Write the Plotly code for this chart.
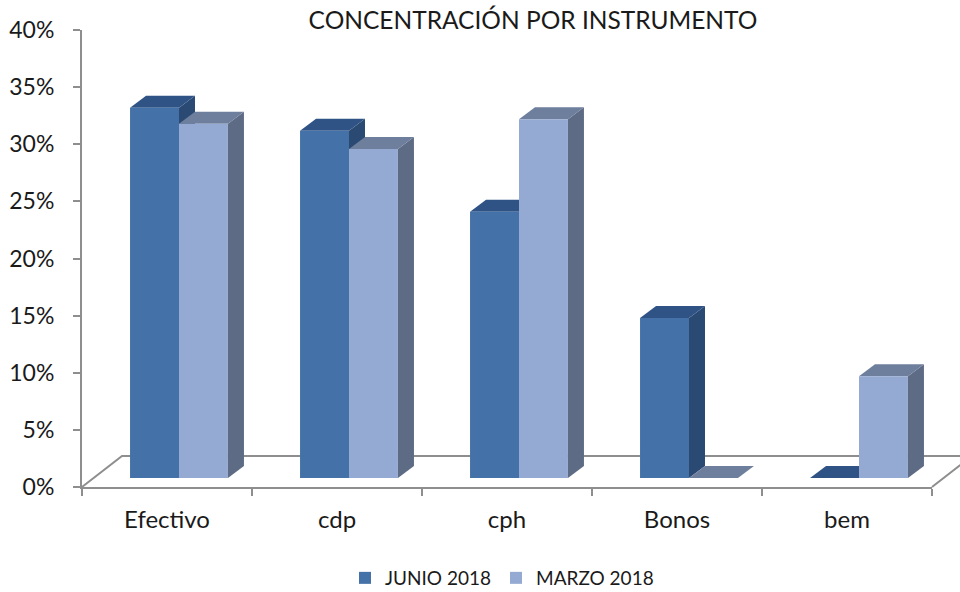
import plotly.graph_objects as go

categories = ["Efectivo", "cdp", "cph", "Bonos", "bem"]
junio_2018 = [32.4, 30.4, 23.3, 14.0, 0.0]
marzo_2018 = [31.0, 28.8, 31.4, 0.0, 8.9]
series_names = ["JUNIO 2018", "MARZO 2018"]
y_ticks = [0, 5, 10, 15, 20, 25, 30, 35, 40]
y_tick_labels = ["0%", "5%", "10%", "15%", "20%", "25%", "30%", "35%", "40%"]
title_text = "CONCENTRACIÓN POR INSTRUMENTO"

# ---- styling / geometry (pixels, in the page) ----
W, H = 960, 592
PL, PR, PT, PB = 82, 932, 30, 487   # plot area in page pixels
ML, MT = PL, PT
MR, MB = W - PR, H - PB
PW, PH = PR - PL, PB - PT
YMAX = 40
n = len(categories)
px_x = PW / n            # px per category unit
px_y = PH / YMAX         # px per percent
shift_x_px, shift_y_px = 12, 9      # bars sit part way into the floor depth
bar_dx_px, bar_dy_px = 16, 12       # depth of the bars
floor_dx_px, floor_dy_px = 40, 31   # depth of the floor
bargap = 0.424
half = (1 - bargap) / 2

sx = shift_x_px / px_x
sy = shift_y_px / px_y
bdx = bar_dx_px / px_x
bdy = bar_dy_px / px_y

FONT = "Lato"
TXT = "#1a1a1a"
front_cols = ["#4471A7", "#95AAD2"]
top_cols = ["#2F5385", "#6E7E9D"]
side_cols = ["#2B4A73", "#5E6B85"]
axis_col = "#8E8E8E"

fig = go.Figure()
# invisible trace so that the front (labelled) axes are drawn
fig.add_trace(go.Scatter(x=categories, y=[None] * n, mode="markers",
                         showlegend=False, hoverinfo="skip"))
series = [junio_2018, marzo_2018]
for k, vals in enumerate(series):
    fig.add_trace(go.Bar(
        x=categories, y=vals, name=series_names[k],
        marker=dict(color=front_cols[k], line=dict(width=0)),
        xaxis="x2", yaxis="y2",
    ))

shapes = []
fdx, fdy = floor_dx_px / PW, floor_dy_px / PH
floor_path = f"M 0,0 L {fdx},{fdy} L {1 + fdx},{fdy} L 1,0"
shapes.append(dict(type="path", xref="paper", yref="paper", path=floor_path,
                   line=dict(color=axis_col, width=2), layer="below"))

# 3D faces of the bars (computed from the data values)
for k, vals in enumerate(series):
    for i, v in enumerate(vals):
        x0 = i - half + k * half
        x1 = x0 + half
        top = (f"M {x0},{v} L {x1},{v} L {x1 + bdx},{v + bdy} "
               f"L {x0 + bdx},{v + bdy} Z")
        side = (f"M {x1},0 L {x1},{v} L {x1 + bdx},{v + bdy} "
                f"L {x1 + bdx},{bdy} Z")
        if v > 0:
            shapes.append(dict(type="path", xref="x2", yref="y2", path=side,
                               fillcolor=side_cols[k], line=dict(width=0),
                               layer="below"))
        shapes.append(dict(type="path", xref="x2", yref="y2", path=top,
                           fillcolor=top_cols[k], line=dict(width=0),
                           layer="below"))

fig.update_layout(
    width=W, height=H,
    margin=dict(l=ML, r=MR, t=MT, b=MB, autoexpand=False),
    paper_bgcolor="white", plot_bgcolor="rgba(0,0,0,0)",
    barmode="group", bargap=bargap, bargroupgap=0,
    shapes=shapes,
    font=dict(family=FONT, color=TXT),
    title=dict(text=title_text, x=533 / W, xanchor="center",
               y=1 - 20 / H, yanchor="middle", yref="container",
               font=dict(size=24.5, family=FONT, color=TXT)),
    xaxis=dict(type="category", categoryarray=categories, range=[-0.5, n - 0.5],
               showline=True, linecolor=axis_col, linewidth=2,
               ticks="outside", tickson="boundaries", ticklen=7,
               tickcolor=axis_col, tickwidth=2, showgrid=False,
               tickfont=dict(size=24, family=FONT, color=TXT),
               ticklabelstandoff=10, fixedrange=True, automargin=False),
    yaxis=dict(type="linear", range=[0, YMAX], tickvals=y_ticks,
               ticktext=y_tick_labels,
               showline=True, linecolor=axis_col, linewidth=2,
               ticks="outside", ticklen=7, tickcolor=axis_col, tickwidth=2,
               showgrid=False, zeroline=False,
               tickfont=dict(size=23, family=FONT, color=TXT),
               ticklabelstandoff=14, fixedrange=True, automargin=False),
    xaxis2=dict(type="category", categoryarray=categories, overlaying="x",
                anchor="y2", range=[-0.5 - sx, n - 0.5 - sx], visible=False,
                fixedrange=True),
    yaxis2=dict(type="linear", overlaying="y", anchor="x2",
                range=[-sy, YMAX - sy], visible=False, fixedrange=True),
    legend=dict(orientation="h", x=(502 - PL) / PW, xanchor="center",
                y=-(578 - PB) / PH, yanchor="middle",
                font=dict(size=19, family=FONT, color=TXT),
                itemwidth=30, traceorder="normal"),
    showlegend=True,
)

fig.write_html("out.html",
               config={"displayModeBar": False},
               post_script="document.body.style.margin='0px';")
